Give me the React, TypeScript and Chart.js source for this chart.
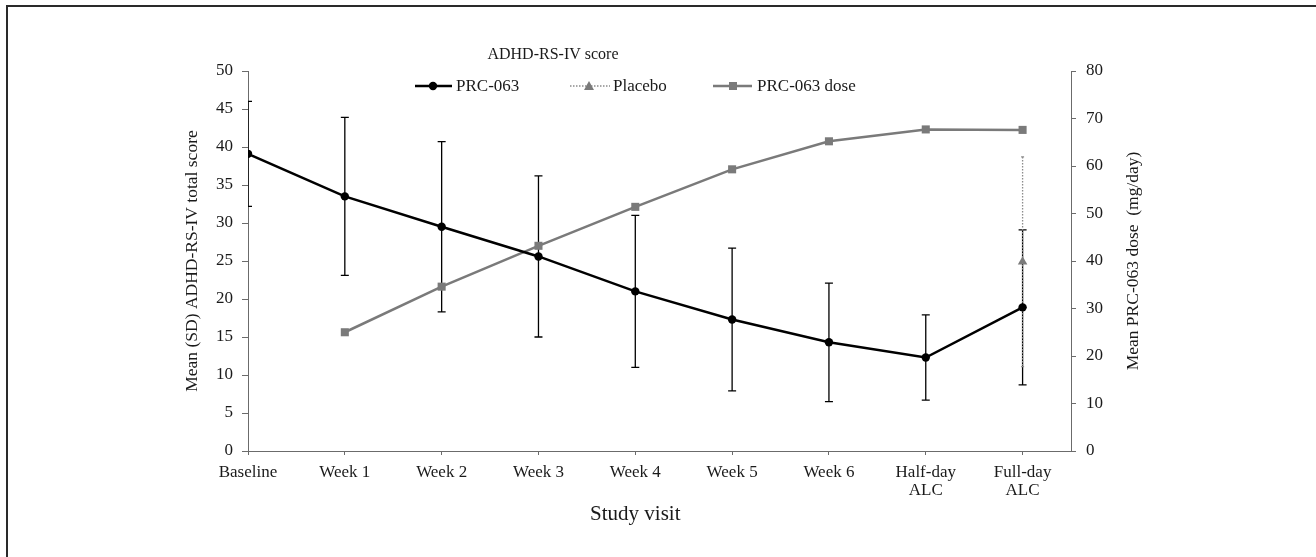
import React, { useEffect, useRef } from 'react';
import { Chart, registerables } from 'chart.js';

Chart.register(...registerables);

// ---- data ----
const visitLabels: string[][] = [
  ['Baseline'],
  ['Week 1'],
  ['Week 2'],
  ['Week 3'],
  ['Week 4'],
  ['Week 5'],
  ['Week 6'],
  ['Half-day', 'ALC'],
  ['Full-day', 'ALC'],
];
const prcMean: number[] = [39.1, 33.5, 29.5, 25.6, 21.0, 17.3, 14.3, 12.3, 18.9];
const prcSD: number[] = [6.9, 10.4, 11.2, 10.6, 10.0, 9.4, 7.8, 5.6, 10.2];
const placeboMean: (number | null)[] = [null, null, null, null, null, null, null, null, 24.9];
const placeboSD: (number | null)[] = [null, null, null, null, null, null, null, null, 13.8];
const doseMean: (number | null)[] = [null, 25.0, 34.6, 43.2, 51.4, 59.3, 65.2, 67.7, 67.6];

const scoreAxis = { min: 0, max: 50, step: 5 };
const doseAxis = { min: 0, max: 80, step: 10 };

const legendTitle = 'ADHD-RS-IV score';
const seriesNames = ['PRC-063', 'Placebo', 'PRC-063 dose'];
const leftTitle = 'Mean (SD) ADHD-RS-IV total score';
const rightTitle = 'Mean PRC-063 dose  (mg/day)';
const bottomTitle = 'Study visit';

// ---- styles ----
const FONT = "'Liberation Serif', 'Times New Roman', Times, serif";
const TEXT = '#1a1a1a';
const AXIS = '#6b6b6b';
const BLACK = '#000000';
const GRAY = '#7a7a7a';

const toPoints = (arr: (number | null)[]) =>
  arr.map((v, i) => ({ x: i, y: v })).filter((p) => p.y !== null) as { x: number; y: number }[];

const errorBarPlugin = {
  id: 'errorBars',
  beforeDatasetsDraw(chart: any) {
    const { ctx, scales, chartArea } = chart;
    const xs = scales.x;
    const ys = scales.y;
    ctx.save();
    ctx.beginPath();
    ctx.rect(chartArea.left, chartArea.top - 2, chartArea.right - chartArea.left, chartArea.bottom - chartArea.top + 4);
    ctx.clip();
    // PRC-063 SD bars
    ctx.strokeStyle = BLACK;
    ctx.lineWidth = 1.3;
    ctx.setLineDash([]);
    prcMean.forEach((m, i) => {
      const sd = prcSD[i];
      const px = xs.getPixelForValue(i);
      const top = ys.getPixelForValue(m + sd);
      const bot = ys.getPixelForValue(m - sd);
      ctx.beginPath();
      ctx.moveTo(px, top);
      ctx.lineTo(px, bot);
      ctx.moveTo(px - 4, top);
      ctx.lineTo(px + 4, top);
      ctx.moveTo(px - 4, bot);
      ctx.lineTo(px + 4, bot);
      ctx.stroke();
    });
    // Placebo SD bars (dotted)
    ctx.strokeStyle = '#8c8c8c';
    ctx.lineWidth = 1.3;
    placeboMean.forEach((m, i) => {
      const sd = placeboSD[i];
      if (m === null || sd === null) return;
      const px = xs.getPixelForValue(i);
      const top = ys.getPixelForValue(m + sd);
      const bot = ys.getPixelForValue(m - sd);
      ctx.setLineDash([1.5, 1.5]);
      ctx.beginPath();
      ctx.moveTo(px, top);
      ctx.lineTo(px, bot);
      ctx.stroke();
      ctx.setLineDash([]);
      ctx.beginPath();
      ctx.moveTo(px - 1.5, top);
      ctx.lineTo(px + 1.5, top);
      ctx.moveTo(px - 1.5, bot);
      ctx.lineTo(px + 1.5, bot);
      ctx.stroke();
    });
    ctx.restore();
  },
};

const decorPlugin = {
  id: 'decor',
  afterDraw(chart: any) {
    const { ctx, chartArea, scales } = chart;
    const xs = scales.x;
    ctx.save();
    ctx.fillStyle = TEXT;
    ctx.textBaseline = 'middle';

    // legend title
    ctx.font = `16px ${FONT}`;
    ctx.textAlign = 'center';
    ctx.fillText(legendTitle, 553, 55);

    // legend items
    const ly = 86;
    ctx.font = `17px ${FONT}`;
    ctx.textAlign = 'left';
    // PRC-063
    ctx.strokeStyle = BLACK;
    ctx.lineWidth = 2.5;
    ctx.beginPath();
    ctx.moveTo(415, ly);
    ctx.lineTo(452, ly);
    ctx.stroke();
    ctx.fillStyle = BLACK;
    ctx.beginPath();
    ctx.arc(433, ly, 4.2, 0, Math.PI * 2);
    ctx.fill();
    ctx.fillStyle = TEXT;
    ctx.fillText(seriesNames[0], 456, ly + 1);
    // Placebo
    ctx.strokeStyle = '#8c8c8c';
    ctx.lineWidth = 1.3;
    ctx.setLineDash([1.5, 1.5]);
    ctx.beginPath();
    ctx.moveTo(570, ly);
    ctx.lineTo(610, ly);
    ctx.stroke();
    ctx.setLineDash([]);
    ctx.fillStyle = GRAY;
    ctx.beginPath();
    ctx.moveTo(589, ly - 5);
    ctx.lineTo(594, ly + 4);
    ctx.lineTo(584, ly + 4);
    ctx.closePath();
    ctx.fill();
    ctx.fillStyle = TEXT;
    ctx.fillText(seriesNames[1], 613, ly + 1);
    // Dose
    ctx.strokeStyle = GRAY;
    ctx.lineWidth = 2.5;
    ctx.beginPath();
    ctx.moveTo(713, ly);
    ctx.lineTo(752, ly);
    ctx.stroke();
    ctx.fillStyle = GRAY;
    ctx.fillRect(729, ly - 4, 8, 8);
    ctx.fillStyle = TEXT;
    ctx.fillText(seriesNames[2], 757, ly + 1);

    // axis titles
    const midY = (chartArea.top + chartArea.bottom) / 2;
    ctx.font = `17.5px ${FONT}`;
    ctx.textAlign = 'center';
    ctx.save();
    ctx.translate(chartArea.left - 56, midY);
    ctx.rotate(-Math.PI / 2);
    ctx.fillText(leftTitle, 0, 0);
    ctx.restore();
    ctx.save();
    ctx.translate(chartArea.right + 62, midY);
    ctx.rotate(-Math.PI / 2);
    ctx.fillText(rightTitle, 0, 0);
    ctx.restore();

    ctx.font = `21px ${FONT}`;
    const cx = (xs.getPixelForValue(0) + xs.getPixelForValue(visitLabels.length - 1)) / 2;
    ctx.fillText(bottomTitle, cx, chartArea.bottom + 63);
    ctx.restore();
  },
};

export default function App() {
  const canvasRef = useRef<HTMLCanvasElement | null>(null);

  useEffect(() => {
    const canvas = canvasRef.current;
    if (!canvas) return;
    const tickFont = { family: FONT, size: 17, lineHeight: 1.08 };
    const chart = new Chart(canvas, {
      type: 'line',
      data: {
        datasets: [
          {
            label: seriesNames[0],
            data: toPoints(prcMean),
            yAxisID: 'y',
            borderColor: BLACK,
            backgroundColor: BLACK,
            borderWidth: 2.5,
            pointRadius: 4.2,
            pointBorderWidth: 0,
            pointStyle: 'circle',
            order: 1,
          },
          {
            label: seriesNames[1],
            data: toPoints(placeboMean),
            yAxisID: 'y',
            borderColor: GRAY,
            backgroundColor: GRAY,
            showLine: false,
            pointRadius: 5.5,
            pointBorderWidth: 0,
            pointStyle: 'triangle',
            order: 0,
          },
          {
            label: seriesNames[2],
            data: toPoints(doseMean),
            yAxisID: 'y1',
            borderColor: GRAY,
            backgroundColor: GRAY,
            borderWidth: 2.5,
            pointRadius: 5.7,
            pointBorderWidth: 0,
            pointStyle: 'rect',
            order: 2,
          },
        ],
      },
      options: {
        responsive: false,
        animation: false,
        events: [],
        layout: { padding: { left: 182, right: 175, top: 71, bottom: 33 } },
        plugins: {
          legend: { display: false },
          title: { display: false },
          tooltip: { enabled: false },
        },
        scales: {
          x: {
            type: 'linear',
            min: 0,
            max: visitLabels.length - 0.5,
            afterFit: (s: any) => {
              s.height = 73;
            },
            afterBuildTicks: (s: any) => {
              s.ticks = visitLabels.map((_, i) => ({ value: i }));
            },
            ticks: {
              font: tickFont,
              color: TEXT,
              padding: 8,
              maxRotation: 0,
              autoSkip: false,
              callback: (v: any) => {
                const lab = visitLabels[Math.round(Number(v))];
                return lab ? (lab.length > 1 ? lab : lab[0]) : '';
              },
            },
            grid: { drawOnChartArea: false, drawTicks: true, tickLength: 4, color: AXIS },
            border: { display: true, color: AXIS, width: 1 },
          },
          y: {
            type: 'linear',
            position: 'left',
            min: scoreAxis.min,
            max: scoreAxis.max,
            afterFit: (s: any) => {
              s.width = 66;
            },
            ticks: { stepSize: scoreAxis.step, font: tickFont, color: TEXT, padding: 9 },
            grid: { drawOnChartArea: false, drawTicks: true, tickLength: 6, color: AXIS },
            border: { display: true, color: AXIS, width: 1 },
          },
          y1: {
            type: 'linear',
            position: 'right',
            min: doseAxis.min,
            max: doseAxis.max,
            afterFit: (s: any) => {
              s.width = 70;
            },
            ticks: { stepSize: doseAxis.step, font: tickFont, color: TEXT, padding: 10 },
            grid: { drawOnChartArea: false, drawTicks: true, tickLength: 5, color: AXIS },
            border: { display: true, color: AXIS, width: 1 },
          },
        },
      } as any,
      plugins: [errorBarPlugin, decorPlugin],
    });
    return () => chart.destroy();
  }, []);

  return (
    <div
      style={{
        position: 'fixed',
        left: 0,
        top: 0,
        width: 1316,
        height: 557,
        background: '#fff',
        overflow: 'hidden',
      }}
    >
      <canvas
        ref={canvasRef}
        width={1316}
        height={557}
        style={{ position: 'absolute', left: 0, top: 0, width: 1316, height: 557 }}
      />
      <div
        style={{
          position: 'absolute',
          left: 6,
          top: 5,
          width: 1320,
          height: 560,
          borderTop: '2px solid #2a2a2a',
          borderLeft: '2px solid #2a2a2a',
          boxSizing: 'border-box',
          pointerEvents: 'none',
        }}
      />
    </div>
  );
}
